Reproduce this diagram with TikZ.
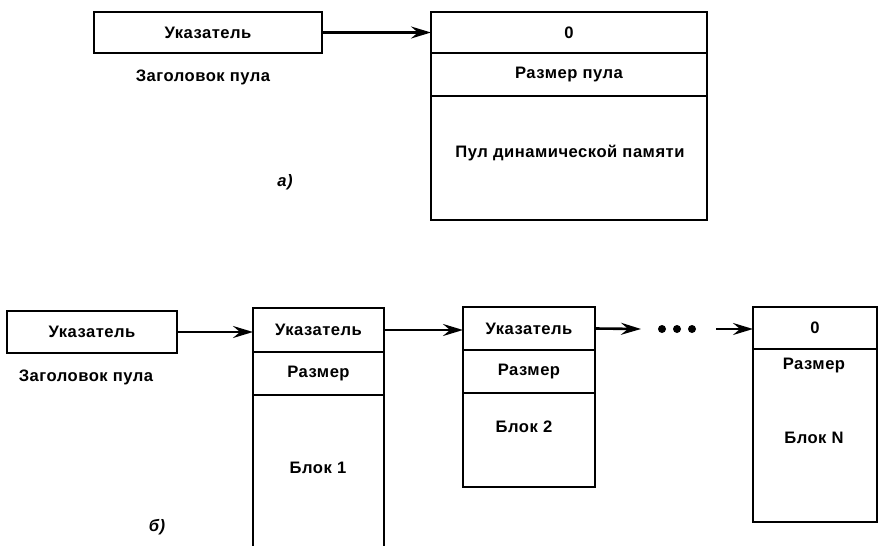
\documentclass[tikz,border=0pt]{standalone}
\usepackage{fontspec}
\setmainfont{Liberation Sans}[LetterSpace=3]
\usetikzlibrary{arrows.meta}
\begin{document}
\begin{tikzpicture}[x=1pt,y=-1pt,
  every node/.style={font=\bfseries\fontsize{16.6}{18}\selectfont},
  cell/.style={draw,line width=2.6pt,anchor=north west,inner sep=0pt,outer sep=0pt},
  label/.style={inner sep=0pt},
  tag/.style={inner sep=0pt,font=\bfseries\itshape\fontsize{16.6}{18}\selectfont},
  arr/.style={line width=2.6pt,-{Stealth[length=20pt,width=12pt,inset=7pt]}},
  dot/.style={circle,fill,inner sep=0pt,minimum size=8pt}]
\useasboundingbox (0,0) rectangle (879,546);
\clip (0,0) rectangle (879,546);

% ---- a) single pool
\node[cell,minimum width=228pt,minimum height=41pt] (hdrA) at (94,12) {Указатель};
\node[label] (capA) at (203,77) {Заголовок пула};
\node[cell,minimum width=276pt,minimum height=41pt] (poolTop) at (431,12) {0};
\node[cell,minimum width=276pt,minimum height=43pt] (poolSize) at (431,53) {Размер пула};
\node[cell,minimum width=276pt,minimum height=124pt] (poolBody) at (431,96) {};
\node[label] (poolText) at (570,153) {Пул динамической памяти};
\node[tag] (tagA) at (285,182) {а)};
\draw[arr] (hdrA.east) -- (poolTop.west);

% ---- b) chain of blocks
\node[cell,minimum width=170pt,minimum height=42pt] (hdrB) at (7,311) {Указатель};
\node[label] (capB) at (86,377) {Заголовок пула};
\node[tag] (tagB) at (157,527) {б)};

% block 1 (runs past the lower edge)
\node[cell,minimum width=131pt,minimum height=44pt] (b1ptr) at (253,308) {Указатель};
\node[cell,minimum width=131pt,minimum height=43pt] (b1size) at (253,352) {Размер};
\node[cell,minimum width=131pt,minimum height=180pt] (b1body) at (253,395) {};
\node[label] (b1text) at (318,468) {Блок 1};

% block 2
\node[cell,minimum width=132pt,minimum height=43pt] (b2ptr) at (463,307) {Указатель};
\node[cell,minimum width=132pt,minimum height=43pt] (b2size) at (463,350) {Размер};
\node[cell,minimum width=132pt,minimum height=94pt] (b2body) at (463,393) {};
\node[label] (b2text) at (524,427) {Блок 2};

% block N
\node[cell,minimum width=124pt,minimum height=42pt] (bNptr) at (753,307) {0};
\node[cell,minimum width=124pt,minimum height=173pt] (bNbody) at (753,349) {};
\node[label] (bNsize) at (814,366) {Размер};
\node[label] (bNtext) at (814,438) {Блок N};

% ellipsis between block 2 and block N
\node[dot] (d1) at (662,329) {};
\node[dot] (d2) at (677,329) {};
\node[dot] (d3) at (692,329) {};
\coordinate (gapL) at (641,329);
\coordinate (gapR) at (716,329);

\draw[arr] (hdrB.east) -- (hdrB.east -| b1ptr.west);
\draw[arr] (b1ptr.east) -- (b1ptr.east -| b2ptr.west);
\draw[arr] (b2ptr.east) -- (gapL);
\draw[arr] (gapR) -- (gapR -| bNptr.west);
\end{tikzpicture}
\end{document}
